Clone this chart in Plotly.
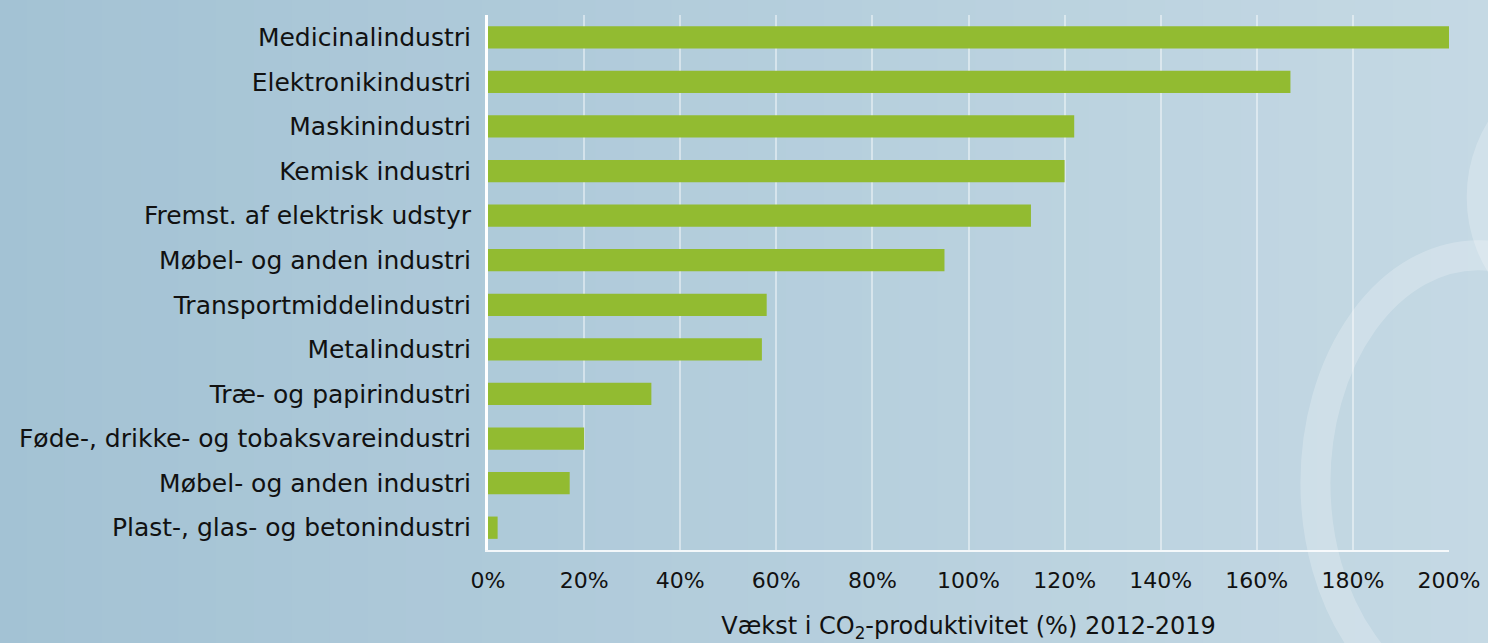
"""
Vækst i CO2-produktivitet fordelt på industribrancher, 2012-2019.
"""

import plotly.graph_objects as go

# Data (øverst til nederst)
# (den gentagne kategori får et usynligt tegn, så Plotly holder dem adskilt)
industries = [
    "Medicinalindustri",
    "Elektronikindustri",
    "Maskinindustri",
    "Kemisk industri",
    "Fremst. af elektrisk udstyr",
    "Møbel- og anden industri",
    "Transportmiddelindustri",
    "Metalindustri",
    "Træ- og papirindustri",
    "Føde-, drikke- og tobaksvareindustri",
    "Møbel- og anden industri\u200b",
    "Plast-, glas- og betonindustri",
]
growth = [200, 167, 122, 120, 113, 95, 58, 57, 34, 20, 17, 2]
tick_values = [0, 20, 40, 60, 80, 100, 120, 140, 160, 180, 200]
tick_labels = ["%d%%" % v for v in tick_values]

BAR_COLOR = "#92bb31"
FONT = "DejaVu Sans"

fig = go.Figure()
fig.add_trace(go.Bar(
    x=growth,
    y=industries,
    orientation="h",
    marker=dict(color=BAR_COLOR, line=dict(width=0)),
    width=0.5,
    hoverinfo="x+y",
))

# Baggrund: trinvis gradient fra venstre mod højre (hele figuren i paper-koordinater)
shapes = []
n_steps = 40
c0 = (163, 194, 212)
c1 = (197, 217, 228)
x_left, x_right = -0.52, 1.06
for i in range(n_steps):
    t = i / (n_steps - 1)
    col = tuple(round(a + (b - a) * t) for a, b in zip(c0, c1))
    step = (x_right - x_left) / n_steps
    shapes.append(dict(
        type="rect", xref="paper", yref="paper", layer="below",
        x0=x_left + step * i, x1=x_left + step * (i + 1) + 0.002,
        y0=-0.2, y1=1.05,
        fillcolor="rgb(%d,%d,%d)" % col, line=dict(width=0),
    ))

fig.update_layout(
    width=1488,
    height=643,
    margin=dict(l=488, r=39, t=15, b=93),
    paper_bgcolor="#aac6d7",
    plot_bgcolor="rgba(0,0,0,0)",
    showlegend=False,
    bargap=0.5,
    font=dict(family=FONT, size=21, color="#111111"),
    shapes=shapes,
    xaxis=dict(
        range=[0, 200],
        tickmode="array",
        tickvals=tick_values,
        ticktext=tick_labels,
        showgrid=True,
        gridcolor="rgba(255,255,255,0.45)",
        gridwidth=2,
        zeroline=False,
        showline=True,
        linecolor="rgba(255,255,255,0.85)",
        linewidth=2,
        ticks="",
        ticklabelstandoff=10,
        tickfont=dict(size=22),
        automargin=False,
        title=dict(
            text="Vækst i CO<sub>2</sub>-produktivitet (%) 2012-2019",
            font=dict(size=24),
            standoff=27,
        ),
    ),
    yaxis=dict(
        autorange="reversed",
        showgrid=False,
        zeroline=False,
        showline=True,
        linecolor="#ffffff",
        linewidth=3,
        ticks="",
        ticklabelstandoff=9,
        tickfont=dict(size=25),
        automargin=False,
    ),
)

# Dekorative buer til højre i baggrunden
fig.add_shape(
    type="circle", xref="paper", yref="paper", layer="below",
    x0=0.861, x1=1.2, y0=-0.3, y1=0.551,
    line=dict(color="rgba(255,255,255,0.22)", width=30),
)
fig.add_shape(
    type="circle", xref="paper", yref="paper", layer="below",
    x0=1.034, x1=1.3, y0=0.42, y1=0.9,
    line=dict(color="rgba(255,255,255,0.22)", width=30),
)

# Fjern sidens standardmargin, så figuren fylder hele vinduet
fig.write_html(
    "out.html",
    config={"displayModeBar": False},
    post_script="document.body.style.margin='0';document.body.style.overflow='hidden';",
)
